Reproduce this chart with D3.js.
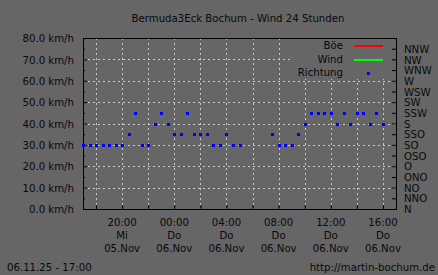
<!DOCTYPE html>
<html>
<head>
<meta charset="utf-8">
<script src="https://cdn.jsdelivr.net/npm/d3@7"></script>
<style>
  body { margin: 0; background: #666666; }
  svg text { font-family: "DejaVu Sans Condensed", "DejaVu Sans", sans-serif; font-size: 11.3px; fill: #0a0a0a; }
</style>
</head>
<body>
<div id="chart"></div>
<script>
// Daten: Windrichtung alle 30 Minuten (05.11. 17:00 bis 06.11. 16:00)
const zeiten = [
  "2025-11-05T17:00", "2025-11-05T17:30", "2025-11-05T18:00", "2025-11-05T18:30",
  "2025-11-05T19:00", "2025-11-05T19:30", "2025-11-05T20:00", "2025-11-05T20:30",
  "2025-11-05T21:00", "2025-11-05T21:30", "2025-11-05T22:00", "2025-11-05T22:30",
  "2025-11-05T23:00", "2025-11-05T23:30", "2025-11-06T00:00", "2025-11-06T00:30",
  "2025-11-06T01:00", "2025-11-06T01:30", "2025-11-06T02:00", "2025-11-06T02:30",
  "2025-11-06T03:00", "2025-11-06T03:30", "2025-11-06T04:00", "2025-11-06T04:30",
  "2025-11-06T05:00",
  "2025-11-06T07:30", "2025-11-06T08:00", "2025-11-06T08:30", "2025-11-06T09:00",
  "2025-11-06T09:30", "2025-11-06T10:00", "2025-11-06T10:30", "2025-11-06T11:00",
  "2025-11-06T11:30", "2025-11-06T12:00", "2025-11-06T12:30", "2025-11-06T13:00",
  "2025-11-06T13:30", "2025-11-06T14:00", "2025-11-06T14:30", "2025-11-06T15:00",
  "2025-11-06T15:30", "2025-11-06T16:00"
];
const richtung = [
  "SO", "SO", "SO", "SO", "SO", "SO", "SO", "SSO",
  "SSW", "SO", "SO", "S", "SSW", "S", "SSO", "SSO",
  "SSW", "SSO", "SSO", "SSO", "SO", "SO", "SSO", "SO",
  "SO",
  "SSO", "SO", "SO", "SO", "SSO", "S", "SSW", "SSW",
  "SSW", "SSW", "S", "SSW", "S", "SSW", "SSW", "S",
  "SSW", "S"
];
// Böe und Wind: keine Werte im Zeitraum
const boe = [];
const wind = [];

const richtungen = ["N", "NNO", "NO", "ONO", "O", "OSO", "SO", "SSO",
                    "S", "SSW", "SW", "WSW", "W", "WNW", "NW", "NNW"];
const kmhTicks = [0, 10, 20, 30, 40, 50, 60, 70, 80];
const zeitTicks = ["2025-11-05T20:00", "2025-11-06T00:00", "2025-11-06T04:00",
                   "2025-11-06T08:00", "2025-11-06T12:00", "2025-11-06T16:00"];
const zeitLabels = ["20:00", "00:00", "04:00", "08:00", "12:00", "16:00"];
const tagLabels = ["Mi", "Do", "Do", "Do", "Do", "Do"];
const datumLabels = ["05.Nov", "06.Nov", "06.Nov", "06.Nov", "06.Nov", "06.Nov"];

const width = 438, height = 275;
const mLeft = 83, mRight = 396, mTop = 38, mBottom = 209;
const schrift = "'DejaVu Sans Condensed', 'DejaVu Sans', sans-serif";

const parse = d3.timeParse("%Y-%m-%dT%H:%M");

const svg = d3.select("#chart").append("svg")
    .attr("width", width)
    .attr("height", height);

svg.append("rect").attr("width", width).attr("height", height).attr("fill", "#666666");

const x = d3.scaleTime()
    .domain([parse("2025-11-05T17:00"), parse("2025-11-06T17:00")])
    .range([mLeft, mRight]);
const y = d3.scaleLinear().domain([0, 80]).range([mBottom, mTop]);
const y2 = d3.scaleLinear().domain([0, 16]).range([mBottom, mTop]); // Richtung, 16 Stufen

// Gitter
const gridX = d3.timeHour.every(2).range(parse("2025-11-05T18:00"), parse("2025-11-06T17:00"));
svg.append("g").selectAll("line")
    .data(gridX).enter().append("line")
    .attr("x1", d => Math.round(x(d)) + 0.5).attr("x2", d => Math.round(x(d)) + 0.5)
    .attr("y1", mTop).attr("y2", mBottom)
    .attr("stroke", "#c8c8c8").attr("stroke-dasharray", "2,3");
svg.append("g").selectAll("line")
    .data(kmhTicks.slice(1, -1)).enter().append("line")
    .attr("x1", mLeft).attr("x2", mRight)
    .attr("y1", d => Math.round(y(d)) + 0.5).attr("y2", d => Math.round(y(d)) + 0.5)
    .attr("stroke", "#c8c8c8").attr("stroke-dasharray", "2,3");

// Legende deckt das Gitter ab
svg.append("rect")
    .attr("x", 290).attr("y", mTop + 1).attr("width", mRight - 291).attr("height", 40)
    .attr("fill", "#666666");

// Achsen
svg.append("g")
    .attr("transform", `translate(${mLeft},0)`)
    .call(d3.axisLeft(y).tickValues(kmhTicks)
        .tickFormat(d => d.toFixed(1) + " km/h")
        .tickSizeInner(-4).tickSizeOuter(0).tickPadding(9));
svg.append("g")
    .attr("transform", `translate(${mLeft},0)`)
    .call(d3.axisLeft(y).tickValues(d3.range(5, 80, 10)).tickFormat("")
        .tickSizeInner(-2).tickSizeOuter(0));

svg.append("g")
    .attr("transform", `translate(${mRight},0)`)
    .call(d3.axisRight(y2).tickValues(d3.range(0, 16))
        .tickFormat(i => richtungen[i])
        .tickSizeInner(-4).tickSizeOuter(0).tickPadding(8));

svg.append("g")
    .attr("transform", `translate(0,${mBottom})`)
    .call(d3.axisBottom(x).tickValues(gridX).tickFormat("")
        .tickSizeInner(-4).tickSizeOuter(0));

svg.selectAll(".domain").remove();
svg.selectAll(".tick line").attr("stroke", "#000");
svg.selectAll(".tick text").attr("fill", "#0a0a0a")
    .style("font-family", schrift).style("font-size", "11.3px");

// Rahmen
svg.append("rect")
    .attr("x", mLeft + 0.5).attr("y", mTop + 0.5)
    .attr("width", mRight - mLeft).attr("height", mBottom - mTop)
    .attr("fill", "none").attr("stroke", "#000");

// Zeitbeschriftung (dreizeilig)
const xl = svg.append("g").selectAll("text")
    .data(zeitTicks).enter().append("text")
    .attr("text-anchor", "middle")
    .attr("transform", d => `translate(${x(parse(d))},226)`);
xl.append("tspan").attr("x", 0).attr("y", 0).text((d, i) => zeitLabels[i]);
xl.append("tspan").attr("x", 0).attr("y", 13).text((d, i) => tagLabels[i]);
xl.append("tspan").attr("x", 0).attr("y", 26).text((d, i) => datumLabels[i]);

// Böe / Wind Linien (leer)
const kurve = d3.line().x(d => x(parse(d[0]))).y(d => y(d[1]));
svg.append("path").datum(boe).attr("d", kurve).attr("fill", "none").attr("stroke", "#ff0000");
svg.append("path").datum(wind).attr("d", kurve).attr("fill", "none").attr("stroke", "#00ff00");

// Richtung Punkte
svg.append("g").selectAll("rect")
    .data(zeiten).enter().append("rect")
    .attr("x", d => Math.round(x(parse(d))) - 1)
    .attr("y", (d, i) => Math.round(y2(richtungen.indexOf(richtung[i]))) - 1)
    .attr("width", 3).attr("height", 3)
    .attr("fill", "#0000ff");

// Legende
const legende = [
  { name: "Böe", farbe: "#ff0000", typ: "linie" },
  { name: "Wind", farbe: "#00ff00", typ: "linie" },
  { name: "Richtung", farbe: "#0000ff", typ: "punkt" }
];
legende.forEach(function(l, i) {
    const ly = 46 + i * 13.5;
    svg.append("text").attr("x", 343).attr("y", ly + 3)
        .attr("text-anchor", "end").text(l.name);
    if (l.typ === "linie") {
        svg.append("rect").attr("x", 354).attr("y", Math.round(ly) - 1)
            .attr("width", 29).attr("height", 2)
            .style("fill", l.farbe);
    } else {
        svg.append("rect").attr("x", 367).attr("y", Math.round(ly) - 1)
            .attr("width", 3).attr("height", 3).style("fill", l.farbe);
    }
});

// Titel und Fußzeile
svg.append("text").attr("x", 238).attr("y", 22).attr("text-anchor", "middle")
    .text("Bermuda3Eck Bochum - Wind 24 Stunden");
svg.append("text").attr("x", 7).attr("y", 271).text("06.11.25 - 17:00");
svg.append("text").attr("x", 435).attr("y", 271).attr("text-anchor", "end")
    .text("http://martin-bochum.de");
</script>
</body>
</html>
